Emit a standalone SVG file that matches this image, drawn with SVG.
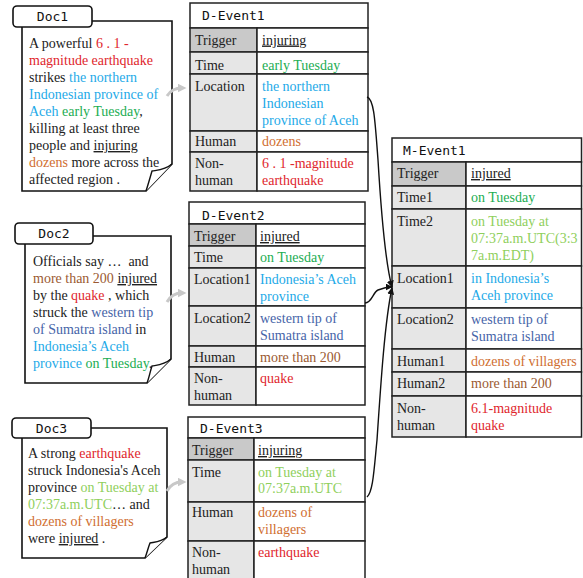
<svg xmlns="http://www.w3.org/2000/svg" width="583" height="578" viewBox="0 0 583 578">
<style>
text{font-family:"Liberation Serif","Times New Roman",serif;font-size:14px;fill:#222}
.mono{font-family:"DejaVu Sans Mono","Liberation Mono",monospace;font-size:13px;fill:#111}
.page{fill:#fff;stroke:#111;stroke-width:1.6}
.lbl{fill:#fff;stroke:#111;stroke-width:1.6}
.flap{fill:#fff;stroke:#111;stroke-width:1.4}
.cell{fill:#fff;stroke:#222;stroke-width:1.5}
.key{fill:#e6e6e6;stroke:#222;stroke-width:1.5}
.trg{fill:#c9c9c9;stroke:#222;stroke-width:1.5}
.u{text-decoration:underline}
.red{fill:#e0262c}.cy{fill:#1eaae8}.gr{fill:#22ad52}.or{fill:#d06e30}.br{fill:#9b5a32}.bl{fill:#4664a8}.lg{fill:#8fcf5c}
.conn{fill:none;stroke:#111;stroke-width:1.4}
.garrow{fill:none;stroke:#c8c8c8;stroke-width:3}
</style>
<defs>
<marker id="ah" viewBox="0 0 10 10" refX="9" refY="5" markerWidth="7" markerHeight="7" markerUnits="userSpaceOnUse" orient="auto"><path d="M0,0 L10,5 L0,10 Z" fill="#111"/></marker>
<marker id="gh" viewBox="0 0 10 10" refX="5" refY="5" markerWidth="9" markerHeight="9" markerUnits="userSpaceOnUse" orient="auto"><path d="M0,0 L10,5 L0,10 Z" fill="#c8c8c8"/></marker>
</defs>

<g id="doc1">
<path class="page" d="M22,21 H172 V164 L146,191 H22 Z"/>
<path class="flap" d="M172,164 C165,170 158,170 152,171 C150,178 148,185 146,191"/>
<rect class="lbl" x="13" y="6" width="79" height="21" rx="4"/>
<text class="mono" x="52.5" y="21" text-anchor="middle">Doc1</text>
<text x="29" y="48">A powerful <tspan class="red">6 . 1 -</tspan></text>
<text x="29" y="65" class="red">magnitude earthquake</text>
<text x="29" y="82">strikes <tspan class="cy">the northern</tspan></text>
<text x="29" y="99" class="cy">Indonesian province of</text>
<text x="29" y="116"><tspan class="cy">Aceh</tspan> <tspan class="gr">early Tuesday</tspan>,</text>
<text x="29" y="133">killing at least three</text>
<text x="29" y="150">people and <tspan class="u">injuring</tspan></text>
<text x="29" y="167"><tspan class="or">dozens</tspan> more across the</text>
<text x="29" y="184">affected region .</text>
</g>

<g id="doc2">
<path class="page" d="M25,236 H171 V359 L147,383 H25 Z"/>
<text x="33" y="266">Officials say … &#160;and</text>
<text x="33" y="283"><tspan class="br">more than 200</tspan> <tspan class="u">injured</tspan></text>
<text x="33" y="300">by the <tspan class="red">quake</tspan> , which</text>
<text x="33" y="317">struck the <tspan class="bl">western tip</tspan></text>
<text x="33" y="334"><tspan class="bl">of Sumatra island</tspan> in</text>
<text x="33" y="351" class="cy">Indonesia’s Aceh</text>
<text x="33" y="368"><tspan class="cy">province</tspan> <tspan class="gr">on Tuesday</tspan>.</text>
<path class="flap" d="M171,359 C164,365 158,365 152,366 C150,372 149,378 147,383"/>
<rect class="lbl" x="15" y="223" width="78" height="21" rx="4"/>
<text class="mono" x="54" y="238" text-anchor="middle">Doc2</text>
</g>

<g id="doc3">
<path class="page" d="M22,428 H167 V537 L145,558 H22 Z"/>
<path class="flap" d="M167,537 C161,542 155,542 150,543 C148,548 147,553 145,558"/>
<rect class="lbl" x="12" y="418" width="79" height="20" rx="4"/>
<text class="mono" x="51.5" y="432.5" text-anchor="middle">Doc3</text>
<text x="28" y="458">A strong <tspan class="red">earthquake</tspan></text>
<text x="28" y="475">struck Indonesia's Aceh</text>
<text x="28" y="492">province <tspan class="lg">on Tuesday at</tspan></text>
<text x="28" y="509"><tspan class="lg">07:37a.m.UTC</tspan>… and</text>
<text x="28" y="526" class="or">dozens of villagers</text>
<text x="28" y="543">were <tspan class="u">injured</tspan> .</text>
</g>

<g id="d-event1">
<rect class="cell" x="190" y="3" width="178" height="25"/>
<rect class="trg" x="190" y="28" width="67" height="24"/><rect class="cell" x="257" y="28" width="111" height="24"/>
<rect class="key" x="190" y="52" width="67" height="22"/><rect class="cell" x="257" y="52" width="111" height="22"/>
<rect class="key" x="190" y="74" width="67" height="57"/><rect class="cell" x="257" y="74" width="111" height="57"/>
<rect class="key" x="190" y="131" width="67" height="21"/><rect class="cell" x="257" y="131" width="111" height="21"/>
<rect class="key" x="190" y="152" width="67" height="39"/><rect class="cell" x="257" y="152" width="111" height="39"/>
<text class="mono" x="202" y="20">D-Event1</text>
<text x="195" y="44.5">Trigger</text><text x="262" y="44.5" class="u">injuring</text>
<text x="195" y="69.5">Time</text><text x="262" y="69.5" class="gr">early Tuesday</text>
<text x="195" y="90.5">Location</text>
<text x="262" y="90.5" class="cy">the northern</text>
<text x="262" y="107.5" class="cy">Indonesian</text>
<text x="262" y="124.5" class="cy">province of Aceh</text>
<text x="195" y="146">Human</text><text x="262" y="146" class="or">dozens</text>
<text x="195" y="168">Non-</text><text x="195" y="185">human</text>
<text x="262" y="168" class="red">6 . 1 -magnitude</text>
<text x="262" y="185" class="red">earthquake</text>
</g>

<g id="d-event2">
<rect class="cell" x="189" y="202" width="176" height="22"/>
<rect class="trg" x="189" y="224" width="67" height="22"/><rect class="cell" x="256" y="224" width="109" height="22"/>
<rect class="key" x="189" y="246" width="67" height="22"/><rect class="cell" x="256" y="246" width="109" height="22"/>
<rect class="key" x="189" y="268" width="67" height="38"/><rect class="cell" x="256" y="268" width="109" height="38"/>
<rect class="key" x="189" y="306" width="67" height="40"/><rect class="cell" x="256" y="306" width="109" height="40"/>
<rect class="key" x="189" y="346" width="67" height="21"/><rect class="cell" x="256" y="346" width="109" height="21"/>
<rect class="key" x="189" y="367" width="67" height="38"/><rect class="cell" x="256" y="367" width="109" height="38"/>
<text class="mono" x="202" y="219.5">D-Event2</text>
<text x="194" y="241">Trigger</text><text x="260" y="241" class="u">injured</text>
<text x="194" y="262">Time</text><text x="260" y="262" class="gr">on Tuesday</text>
<text x="194" y="284">Location1</text>
<text x="260" y="284" class="cy">Indonesia’s Aceh</text>
<text x="260" y="301" class="cy">province</text>
<text x="194" y="323">Location2</text>
<text x="260" y="323" class="bl">western tip of</text>
<text x="260" y="340" class="bl">Sumatra island</text>
<text x="194" y="362">Human</text><text x="260" y="362" class="br">more than 200</text>
<text x="194" y="383">Non-</text><text x="194" y="400">human</text>
<text x="260" y="383" class="red">quake</text>
</g>

<g id="d-event3">
<rect class="cell" x="188" y="417" width="177" height="21"/>
<rect class="trg" x="188" y="438" width="66" height="22"/><rect class="cell" x="254" y="438" width="111" height="22"/>
<rect class="key" x="188" y="460" width="66" height="42"/><rect class="cell" x="254" y="460" width="111" height="42"/>
<rect class="key" x="188" y="502" width="66" height="39"/><rect class="cell" x="254" y="502" width="111" height="39"/>
<rect class="key" x="188" y="541" width="66" height="42"/><rect class="cell" x="254" y="541" width="111" height="42"/>
<text class="mono" x="200" y="433">D-Event3</text>
<text x="192" y="455">Trigger</text><text x="258" y="455" class="u">injuring</text>
<text x="192" y="477">Time</text>
<text x="258" y="477" class="lg">on Tuesday at</text>
<text x="258" y="493" class="lg">07:37a.m.UTC</text>
<text x="192" y="517">Human</text>
<text x="258" y="517" class="or">dozens of</text>
<text x="258" y="534" class="or">villagers</text>
<text x="192" y="557">Non-</text><text x="192" y="574">human</text>
<text x="258" y="557" class="red">earthquake</text>
</g>

<g id="m-event1">
<rect class="cell" x="392" y="138" width="189.5" height="24"/>
<rect class="trg" x="392" y="162" width="74" height="24"/><rect class="cell" x="466" y="162" width="115.5" height="24"/>
<rect class="key" x="392" y="186" width="74" height="23"/><rect class="cell" x="466" y="186" width="115.5" height="23"/>
<rect class="key" x="392" y="209" width="74" height="57"/><rect class="cell" x="466" y="209" width="115.5" height="57"/>
<rect class="key" x="392" y="266" width="74" height="42"/><rect class="cell" x="466" y="266" width="115.5" height="42"/>
<rect class="key" x="392" y="308" width="74" height="41"/><rect class="cell" x="466" y="308" width="115.5" height="41"/>
<rect class="key" x="392" y="349" width="74" height="23"/><rect class="cell" x="466" y="349" width="115.5" height="23"/>
<rect class="key" x="392" y="372" width="74" height="24"/><rect class="cell" x="466" y="372" width="115.5" height="24"/>
<rect class="key" x="392" y="396" width="74" height="41"/><rect class="cell" x="466" y="396" width="115.5" height="41"/>
<text class="mono" x="403" y="154.5">M-Event1</text>
<text x="397" y="178">Trigger</text><text x="471" y="178" class="u">injured</text>
<text x="397" y="202">Time1</text><text x="471" y="202" class="gr">on Tuesday</text>
<text x="397" y="226">Time2</text>
<text x="471" y="226" class="lg">on Tuesday at</text>
<text x="471" y="243" class="lg">07:37a.m.UTC(3:3</text>
<text x="471" y="260" class="lg">7a.m.EDT)</text>
<text x="397" y="283">Location1</text>
<text x="471" y="283" class="cy">in Indonesia’s</text>
<text x="471" y="300" class="cy">Aceh province</text>
<text x="397" y="324">Location2</text>
<text x="471" y="324" class="bl">western tip of</text>
<text x="471" y="341" class="bl">Sumatra island</text>
<text x="397" y="366">Human1</text><text x="471" y="366" class="or">dozens of villagers</text>
<text x="397" y="388">Human2</text><text x="471" y="388" class="br">more than 200</text>
<text x="397" y="413">Non-</text><text x="397" y="430">human</text>
<text x="471" y="413" class="red">6.1-magnitude</text>
<text x="471" y="430" class="red">quake</text>
</g>

<g id="connectors">
<path class="garrow" d="M167,96 Q172,88 182,88" marker-end="url(#gh)"/>
<path class="garrow" d="M167,302 Q172,293 182,293" marker-end="url(#gh)"/>
<path class="garrow" d="M167,491 Q172,482 182,482" marker-end="url(#gh)"/>
<path class="conn" d="M367,97 C374,99 375,120 378,160 C381,210 385,262 392,287" marker-end="url(#ah)"/>
<path class="conn" d="M365,303 C372,303 373,292 378,290 C383,288 387,287 392,287" marker-end="url(#ah)"/>
<path class="conn" d="M367,497 C373,492 374,470 377,440 C381,380 385,320 392,288" marker-end="url(#ah)"/>
</g>
</svg>
